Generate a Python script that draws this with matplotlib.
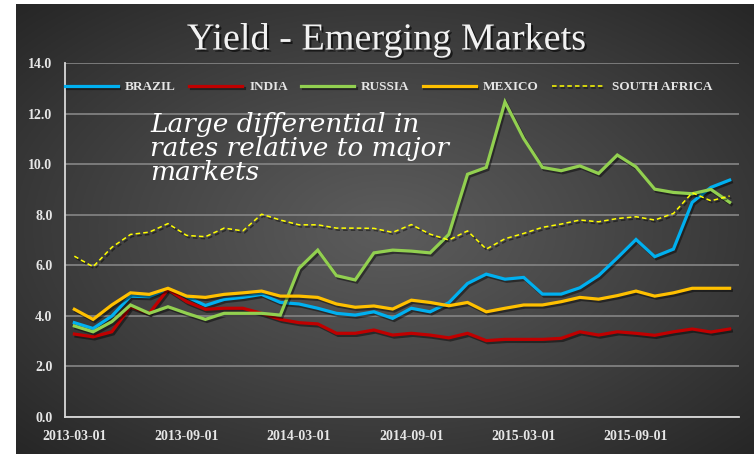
import matplotlib
matplotlib.use("Agg")
import matplotlib.pyplot as plt
import matplotlib.patheffects as pe
import numpy as np

# monthly yields, 2013-03 .. 2016-02
months = [f"{y}-{m:02d}-01" for y in (2013, 2014, 2015, 2016) for m in range(1, 13)][2:38]

brazil = [3.73, 3.50, 3.99, 4.78, 4.76, 5.06, 4.76, 4.41, 4.65, 4.73, 4.85, 4.53,
          4.47, 4.30, 4.10, 4.03, 4.16, 3.90, 4.30, 4.16, 4.52, 5.28, 5.65, 5.45,
          5.52, 4.86, 4.86, 5.11, 5.59, 6.29, 7.02, 6.34, 6.64, 8.49, 9.08, 9.37]
india = [3.28, 3.17, 3.37, 4.36, 4.10, 5.05, 4.56, 4.26, 4.30, 4.30, 4.10, 3.86,
         3.73, 3.68, 3.31, 3.31, 3.44, 3.24, 3.31, 3.24, 3.13, 3.31, 3.02, 3.07,
         3.07, 3.07, 3.11, 3.37, 3.24, 3.37, 3.31, 3.23, 3.37, 3.48, 3.36, 3.48]
russia = [3.60, 3.37, 3.77, 4.43, 4.10, 4.36, 4.10, 3.86, 4.10, 4.10, 4.10, 4.03,
          5.88, 6.60, 5.59, 5.42, 6.49, 6.60, 6.56, 6.49, 7.22, 9.60, 9.87, 12.46,
          11.01, 9.87, 9.74, 9.93, 9.63, 10.36, 9.89, 9.01, 8.88, 8.83, 9.00, 8.49]
mexico = [4.26, 3.86, 4.43, 4.91, 4.85, 5.09, 4.78, 4.73, 4.85, 4.91, 4.98, 4.78,
          4.78, 4.73, 4.47, 4.34, 4.39, 4.27, 4.62, 4.53, 4.40, 4.53, 4.16, 4.30,
          4.43, 4.43, 4.56, 4.73, 4.66, 4.80, 4.98, 4.78, 4.91, 5.09, 5.09, 5.09]
south_africa = [6.36, 5.94, 6.71, 7.22, 7.31, 7.65, 7.18, 7.13, 7.47, 7.36, 8.02, 7.79,
                7.60, 7.60, 7.47, 7.47, 7.46, 7.30, 7.61, 7.23, 7.00, 7.36, 6.64, 7.05,
                7.26, 7.50, 7.63, 7.79, 7.72, 7.85, 7.92, 7.79, 8.05, 8.87, 8.55, 8.74]

series = [
    ("BRAZIL", brazil, "#00B0F0", "-", 2.3),
    ("INDIA", india, "#C00000", "-", 2.3),
    ("RUSSIA", russia, "#92D050", "-", 2.3),
    ("MEXICO", mexico, "#FFC000", "-", 2.3),
    ("SOUTH AFRICA", south_africa, "#FFFF00", (0, (3, 2)), 1.1),
]

W, H = 754, 454
fig = plt.figure(figsize=(W / 100, H / 100), dpi=100)
fig.patch.set_facecolor("white")

# dark radial backdrop
bg = fig.add_axes([16 / W, 0, 1 - 16 / W, 1 - 4 / H])
gx, gy = np.meshgrid(np.linspace(-1, 1, 400), np.linspace(-1, 1, 240))
r = np.clip(np.sqrt(gx ** 2 + gy ** 2) / np.sqrt(2), 0, 1)
shade = 0.36 - 0.21 * r ** 1.1
bg.imshow(np.dstack([shade] * 3), aspect="auto", extent=[0, 1, 0, 1])
bg.set_axis_off()

ax = fig.add_axes([65 / W, 1 - 417 / H, 674 / W, 354 / H])
ax.set_facecolor("none")

x = np.arange(len(months))
shadow = [pe.SimpleLineShadow(offset=(1.2, -1.5), shadow_color="black", alpha=0.45), pe.Normal()]
for name, vals, color, ls, lw in series:
    ax.plot(x, vals, color=color, ls=ls, lw=lw, label=name, path_effects=shadow,
            solid_joinstyle="miter", zorder=3)

ax.set_xlim(-0.5, len(months) - 0.5)
ax.set_ylim(0, 14)
ax.set_yticks(np.arange(0, 15, 2))
ax.set_yticklabels([f"{v:.1f}" for v in np.arange(0, 15, 2)])
ax.set_xticks(x[::6])
ax.set_xticklabels(months[::6])
ax.yaxis.grid(True, color="#808080", lw=1.3)
ax.set_axisbelow(True)
for side in ("top", "right"):
    ax.spines[side].set_visible(False)
for side in ("left", "bottom"):
    ax.spines[side].set_color("#d9d9d9")
    ax.spines[side].set_linewidth(1.3)
ax.tick_params(length=0, colors="#e6e6e6")
ax.tick_params(axis="y", pad=9)
ax.tick_params(axis="x", pad=9)
for lab in ax.get_xticklabels() + ax.get_yticklabels():
    lab.set_family("Liberation Serif")
    lab.set_fontweight("bold")
    lab.set_fontsize(10)

leg = ax.legend(loc="center left", bbox_to_anchor=(0, 0.932), ncol=5, frameon=False,
                borderpad=0, borderaxespad=0, handlelength=4.0, handletextpad=0.55,
                columnspacing=1.0, prop={"family": "Liberation Serif", "weight": "bold", "size": 9.5})
for t in leg.get_texts():
    t.set_color("#e6e6e6")

fig.text(0.513, 1 - 40 / H, "Yield - Emerging Markets", ha="center", va="center",
         family="Liberation Serif", fontsize=27.5, color="#f2f2f2",
         path_effects=[pe.withSimplePatchShadow(offset=(1.5, -1.5), shadow_rgbFace="black", alpha=0.6)])

fig.text(150 / W, 1 - 112 / H, "Large differential in\nrates relative to major\nmarkets",
         ha="left", va="top", family="DejaVu Serif", style="italic", fontsize=19,
         color="white", linespacing=0.95)

fig.savefig("out.png", dpi=100, facecolor=fig.get_facecolor())
